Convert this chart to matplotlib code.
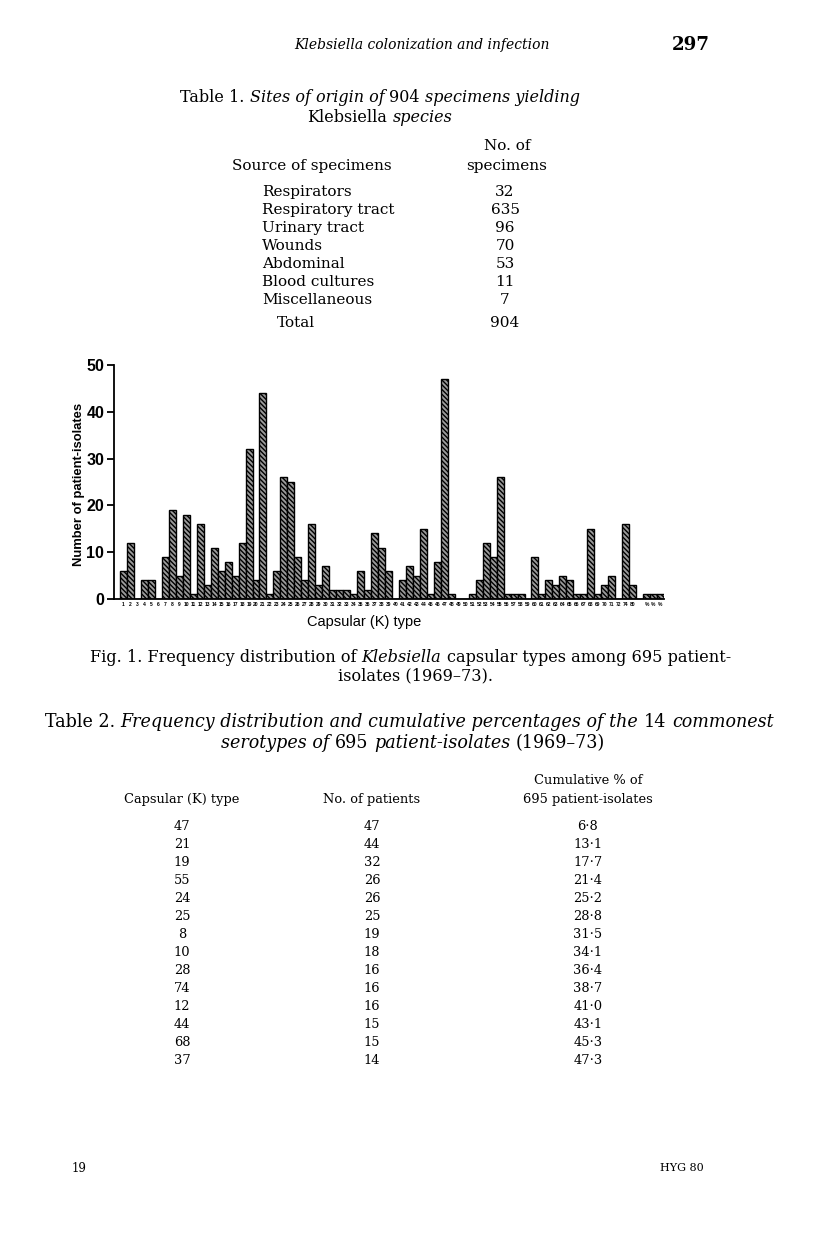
import numpy as np
import matplotlib
matplotlib.use('Agg')
import matplotlib.pyplot as plt
from matplotlib import font_manager

# --- data ---
k_labels = [str(i) for i in range(1, 73)] + ['74', '80', '', '%', '%', '%']
k_counts = [6, 12, 0, 4, 4, 0, 9, 19, 5, 18,
            1, 16, 3, 11, 6, 8, 5, 12, 32, 4,
            44, 1, 6, 26, 25, 9, 4, 16, 3, 7,
            2, 2, 2, 1, 6, 2, 14, 11, 6, 0,
            4, 7, 5, 15, 1, 8, 47, 1, 0, 0,
            1, 4, 12, 9, 26, 1, 1, 1, 0, 9,
            1, 4, 3, 5, 4, 1, 1, 15, 1, 3,
            5, 0, 16, 3, 0, 1, 1, 1]

t1_sources = ['Respirators', 'Respiratory tract', 'Urinary tract', 'Wounds',
              'Abdominal', 'Blood cultures', 'Miscellaneous']
t1_counts = [32, 635, 96, 70, 53, 11, 7]
t1_total = 904

t2_ktype = [47, 21, 19, 55, 24, 25, 8, 10, 28, 74, 12, 44, 68, 37]
t2_patients = [47, 44, 32, 26, 26, 25, 19, 18, 16, 16, 16, 15, 15, 14]
t2_cumul = ['6·8', '13·1', '17·7', '21·4', '25·2', '28·8', '31·5', '34·1',
            '36·4', '38·7', '41·0', '43·1', '45·3', '47·3']

W, H = 816, 1255
SERIF = ['DejaVu Serif']
installed = {f.name for f in font_manager.fontManager.ttflist}
SANS = ['Liberation Sans Narrow'] if 'Liberation Sans Narrow' in installed else ['Liberation Sans']

fig = plt.figure(figsize=(W / 100, H / 100), dpi=100)
R = fig.canvas.get_renderer()


def wid(t):
    return t.get_window_extent(R).width


def space(size):
    a = fig.text(0, 0, 'a a', fontsize=size, family=SERIF)
    b = fig.text(0, 0, 'aa', fontsize=size, family=SERIF)
    g = wid(a) - wid(b)
    a.remove(); b.remove()
    return g


def rich(parts, y, x0, x1=None, size=10.0, ha='left'):
    # parts: (text, style, weight); laid out left to right with single spaces
    ts = [fig.text(0, 1 - y / H, s, fontsize=size, fontstyle=st, fontweight=wt,
                   family=SERIF, va='center') for s, st, wt in parts]

    def layout():
        gap = space(ts[0].get_fontsize())
        ws = [wid(t) for t in ts]
        return ws, gap, sum(ws) + gap * (len(ts) - 1)

    ws, gap, tot = layout()
    if x1 is not None:
        k = (x1 - x0) / tot
        for t in ts:
            t.set_fontsize(t.get_fontsize() * k)
        ws, gap, tot = layout()
    x = x0 - (tot / 2 if ha == 'center' else 0)
    for t, w in zip(ts, ws):
        t.set_x(x / W)
        x += w + gap
    return ts[0].get_fontsize()


N, I, B = 'normal', 'italic', 'bold'

# running head
rich([('Klebsiella colonization and infection', I, N)], 45, 294, 550)
rich([('297', N, B)], 45, 672, 710)

# Table 1
s = rich([('Table 1.', N, N), ('Sites of origin of', I, N), ('904', N, N),
          ('specimens yielding', I, N)], 97, 180, 580)
rich([('Klebsiella', N, N), ('species', I, N)], 118, 380, size=s, ha='center')
s1 = rich([('Source of specimens', N, N)], 166, 232, 392)
rich([('No. of', N, N)], 146, 507, size=s1, ha='center')
rich([('specimens', N, N)], 166, 507, size=s1, ha='center')
for i, (src, n) in enumerate(zip(t1_sources, t1_counts)):
    rich([(src, N, N)], 192 + 18 * i, 262, size=s1)
    rich([(str(n), N, N)], 192 + 18 * i, 505, size=s1, ha='center')
rich([('Total', N, N)], 323, 277, size=s1)
rich([(str(t1_total), N, N)], 323, 505, size=s1, ha='center')

# Fig. 1 bar chart
ax = fig.add_axes([114 / W, 1 - 599 / H, 550 / W, 234 / H])
x = np.arange(len(k_counts))
plt.rcParams['hatch.linewidth'] = 1.0
ax.bar(x, k_counts, width=1, align='edge', facecolor='#9a9a9a',
       edgecolor='black', hatch='\\' * 7, linewidth=1.0)
ax.set_xlim(-0.86, len(k_counts))
ax.set_ylim(0, 50)
for sp in ['top', 'right']:
    ax.spines[sp].set_visible(False)
ax.spines['left'].set_bounds(0, 50)
ax.spines['left'].set_linewidth(1.3)
ax.spines['bottom'].set_linewidth(1.3)
ax.set_yticks([0, 10, 20, 30, 40, 50])
ax.set_yticklabels(['0', '10', '20', '30', '40', '50'], family=SANS,
                   fontweight='bold', fontsize=11.5)
ax.tick_params(axis='y', length=5, width=1.3, pad=2)
ax.set_xticks(x + 0.5)
ax.set_xticklabels(k_labels, family=SANS, fontweight='bold', fontsize=3.6)
ax.tick_params(axis='x', length=0, pad=2)
fig.text(79 / W, 1 - 484 / H, 'Number of patient-isolates', rotation=90,
         family=SANS, fontweight='bold', fontsize=9.4, ha='center', va='center')
fig.text(364 / W, 1 - 622 / H, 'Capsular (K) type', family=SANS,
         fontsize=10.5, ha='center', va='center')

# caption
s = rich([('Fig. 1. Frequency distribution of', N, N), ('Klebsiella', I, N),
          ('capsular types among 695 patient-', N, N)], 657, 90, 730)
rich([('isolates (1969–73).', N, N)], 676, 415, size=s, ha='center')

# Table 2
s = rich([('Table 2.', N, N),
          ('Frequency distribution and cumulative percentages of the', I, N),
          ('14', N, N), ('commonest', I, N)], 722, 45, 775)
rich([('serotypes of', I, N), ('695', N, N), ('patient-isolates', I, N),
      ('(1969–73)', N, N)], 743, 413, size=s, ha='center')
s2 = rich([('No. of patients', N, N)], 800, 323, 420)
rich([('Cumulative % of', N, N)], 780, 588, size=s2, ha='center')
rich([('Capsular (K) type', N, N)], 800, 182, size=s2, ha='center')
rich([('695 patient-isolates', N, N)], 800, 588, size=s2, ha='center')
for i, (k, p, c) in enumerate(zip(t2_ktype, t2_patients, t2_cumul)):
    y = 826 + 18 * i
    rich([(str(k), N, N)], y, 182, size=s2, ha='center')
    rich([(str(p), N, N)], y, 372, size=s2, ha='center')
    rich([(c, N, N)], y, 588, size=s2, ha='center')

# folio line
rich([('19', N, N)], 1168, 72, size=8.5)
rich([('HYG 80', N, N)], 1168, 660, size=8)

fig.savefig('out.png', dpi=100)
